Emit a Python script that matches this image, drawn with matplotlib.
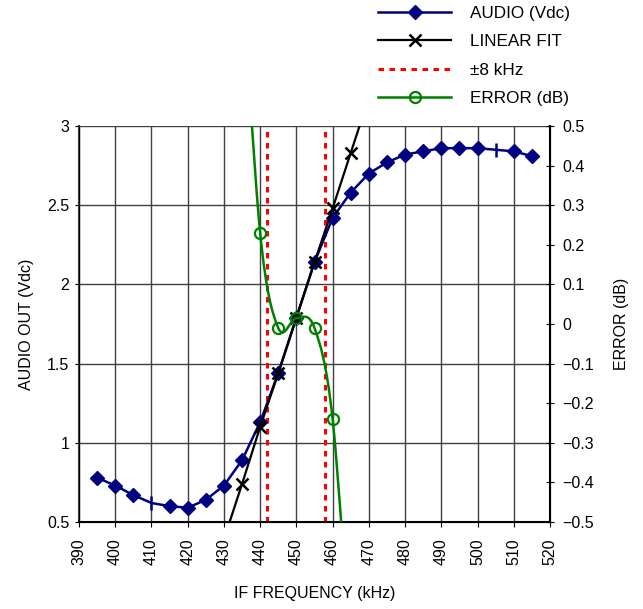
import numpy as np
import matplotlib
matplotlib.use('Agg')
import matplotlib.pyplot as plt
from matplotlib.path import Path
from matplotlib.patches import PathPatch
from matplotlib.lines import Line2D
from matplotlib.ticker import FuncFormatter

plt.rcParams['font.family'] = ['Liberation Sans', 'DejaVu Sans']
plt.rcParams['font.size'] = 11.5

# Audio output (Vdc) vs IF frequency (kHz)
audio_khz = [395, 400, 405, 410, 415, 420, 425, 430, 435, 440, 445, 450, 455,
             460, 465, 470, 475, 480, 485, 490, 495, 500, 505, 510, 515]
audio_v = [0.78, 0.73, 0.67, 0.62, 0.60, 0.59, 0.64, 0.73, 0.89, 1.13, 1.44,
           1.79, 2.14, 2.42, 2.58, 2.70, 2.77, 2.82, 2.84, 2.86, 2.86, 2.86,
           2.85, 2.84, 2.81]
# points drawn with a plain tick instead of a diamond
audio_tick_khz = [410, 505]

# linear fit (end points run off the plot area)
fit_khz = [430, 435, 440, 445, 450, 455, 460, 465, 470]
fit_v = [0.39, 0.74, 1.10, 1.44, 1.79, 2.14, 2.48, 2.83, 3.18]

# +/-8 kHz markers
band_khz = [442, 458]

# error (dB); first and last points are off scale
err_khz = [435, 440, 445, 450, 455, 460, 465]
err_db = [0.9, 0.23, -0.01, 0.015, -0.01, -0.24, -0.85]

navy = '#000080'
green = '#008000'


def smooth_path(xs, ys):
    # Bezier path through the points, like a spreadsheet "smoothed line"
    pts = np.column_stack([xs, ys]).astype(float)
    n = len(pts)
    verts = [pts[0]]
    codes = [Path.MOVETO]
    for i in range(n - 1):
        p0 = pts[max(i - 1, 0)]
        p1 = pts[i]
        p2 = pts[i + 1]
        p3 = pts[min(i + 2, n - 1)]
        verts += [p1 + (p2 - p0) / 6, p2 - (p3 - p1) / 6, p2]
        codes += [Path.CURVE4] * 3
    return Path(verts, codes)


fig = plt.figure(figsize=(6.43, 6.09), dpi=100)
ax = fig.add_axes([79 / 643, 1 - 522 / 609, 471 / 643, 396 / 609])
ax2 = ax.twinx()

ax.set_xlim(390, 520)
ax.set_ylim(0.5, 3)
ax2.set_ylim(-0.5, 0.5)

ax.set_xticks(np.arange(390, 521, 10))
ax.set_yticks(np.arange(0.5, 3.01, 0.5))
ax2.set_yticks(np.round(np.arange(-0.5, 0.51, 0.1), 1))


def tick_fmt(v, p):
    v = round(v, 6)
    if v == 0:
        v = 0.0
    return f'{v:g}'.replace('-', '\u2212')


fmt = FuncFormatter(tick_fmt)
ax.yaxis.set_major_formatter(fmt)
ax2.yaxis.set_major_formatter(fmt)
ax.tick_params(axis='x', rotation=90, direction='out', length=3.6, pad=8)
ax.tick_params(axis='y', direction='out', length=3, pad=4)
ax2.tick_params(axis='y', direction='inout', length=6, pad=6)

ax.grid(True, color='#404040', linewidth=1.0)
ax.set_axisbelow(True)
ax.spines['top'].set_visible(False)
ax2.spines['top'].set_visible(False)
ax.spines['left'].set_color('#404040')
ax.spines['left'].set_linewidth(1.5)
ax.spines['bottom'].set_linewidth(1.5)
ax2.spines['right'].set_linewidth(1.5)

# audio
ax.plot(audio_khz, audio_v, color=navy, linewidth=1.8, zorder=3)
dia_x = [k for k in audio_khz if k not in audio_tick_khz]
dia_y = [v for k, v in zip(audio_khz, audio_v) if k not in audio_tick_khz]
tick_y = [v for k, v in zip(audio_khz, audio_v) if k in audio_tick_khz]
ax.plot(dia_x, dia_y, linestyle='none', marker='D', markersize=7.3,
        color=navy, zorder=4)
ax.plot(audio_tick_khz, tick_y, linestyle='none', marker='|', markersize=10,
        markeredgewidth=1.8, color=navy, zorder=4)

# linear fit
ax.plot(fit_khz, fit_v, color='black', linewidth=1.6, marker='x',
        markersize=8, markeredgewidth=1.8, markevery=slice(1, -1), zorder=5)

# band edges
for b in band_khz:
    ax.axvline(b, color='#ff0000', linewidth=2.2, dashes=(1.8, 1.8), zorder=2)

# error
ax2.add_patch(PathPatch(smooth_path(err_khz, err_db), fill=False,
                        edgecolor=green, linewidth=1.8, zorder=3))
ax2.plot(err_khz[1:-1], err_db[1:-1], linestyle='none', marker='o',
         markersize=8, markerfacecolor='none', markeredgecolor=green,
         markeredgewidth=1.6, zorder=4)

ax.set_xlabel('IF FREQUENCY (kHz)')
ax.set_ylabel('AUDIO OUT (Vdc)')
ax2.set_ylabel('ERROR (dB)')
ax.xaxis.set_label_coords(0.5, -0.162)
ax.yaxis.set_label_coords(-0.095, 0.5)
ax2.yaxis.set_label_coords(1.136, 0.5)

handles = [
    Line2D([], [], color=navy, linewidth=1.8, marker='D', markersize=7.3),
    Line2D([], [], color='black', linewidth=1.6, marker='x', markersize=8,
           markeredgewidth=1.8),
    Line2D([], [], color='#ff0000', linewidth=2.2, dashes=(1.8, 1.8)),
    Line2D([], [], color=green, linewidth=1.8, marker='o', markersize=8,
           markerfacecolor='none', markeredgewidth=1.6),
]
labels = ['AUDIO (Vdc)', 'LINEAR FIT', '\u00b18 kHz', 'ERROR (dB)']
fig.legend(handles, labels, loc='upper left', fontsize=12.3,
           bbox_to_anchor=(378 / 643, 1 - 6 / 609), frameon=False,
           borderpad=0, borderaxespad=0, handlelength=4.3,
           handletextpad=1.1, labelspacing=0.78)

fig.savefig('out.png', dpi=100)
